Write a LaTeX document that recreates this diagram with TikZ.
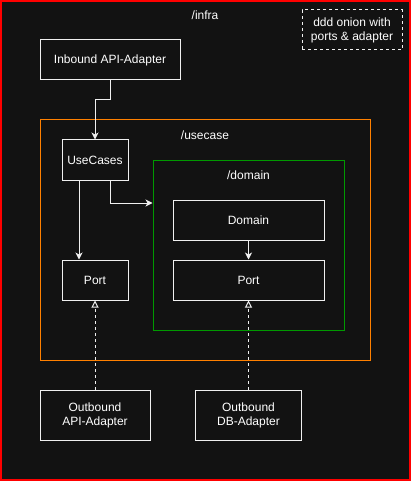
\documentclass[tikz,border=0pt]{standalone}
\usepackage{fontspec}
\setmainfont{Liberation Sans}
\usetikzlibrary{arrows.meta}
\definecolor{bg}{HTML}{121212}
\definecolor{ln}{HTML}{F0F0F0}
\definecolor{orangeline}{HTML}{FF8000}
\definecolor{greenline}{HTML}{009900}
\begin{document}
\begin{tikzpicture}[x=1pt,y=-1pt,
  box/.style={draw=ln,line width=1pt,fill=bg,text=white,font=\fontsize{12}{14}\selectfont,align=center,inner sep=0pt},
  lbl/.style={text=white,font=\fontsize{12}{14}\selectfont,align=center,inner sep=0pt},
  conn/.style={draw=ln,line width=1pt,-{Stealth[length=7pt,width=7pt,inset=2pt]}},
  real/.style={draw=ln,line width=1pt,dashed,dash pattern=on 3pt off 3pt,-{Triangle[open,length=7pt,width=7pt,fill=bg]}}]
\fill[bg] (0,0) rectangle (411,481);
\draw[red,line width=2pt] (1,1) rectangle (410,480);
\useasboundingbox (0,0) rectangle (411,481);
\node[lbl] (infra) at (205,15) {/infra};
\node[lbl,draw=ln,dashed,line width=1pt,minimum width=100pt,minimum height=40pt] (note) at (352,30) {ddd onion with\\ports \& adapter};
\node[box,minimum width=140pt,minimum height=40pt] (inb) at (110,60) {Inbound API-Adapter};
\node[draw=orangeline,line width=1pt,minimum width=330pt,minimum height=240pt,inner sep=0pt] (uc) at (205,240) {};
\node[lbl] (uclbl) at (205,135) {/usecase};
\node[draw=greenline,line width=1pt,minimum width=191pt,minimum height=170pt,inner sep=0pt] (dom) at (248.5,245.5) {};
\node[lbl] (domlbl) at (248.5,175) {/domain};
\node[box,minimum width=66pt,minimum height=40pt] (usec) at (95,160) {UseCases};
\node[box,minimum width=66pt,minimum height=40pt] (portl) at (95,280) {Port};
\node[box,minimum width=151pt,minimum height=40pt] (domain) at (248.5,220) {Domain};
\node[box,minimum width=151pt,minimum height=40pt] (portr) at (248.5,280) {Port};
\node[box,minimum width=110pt,minimum height=50pt] (oapi) at (95,415) {Outbound\\API-Adapter};
\node[box,minimum width=106pt,minimum height=50pt] (odb) at (248.5,415) {Outbound\\DB-Adapter};
\draw[conn] (inb.south) |- (110,100) -| (usec.north);
\draw[conn] (usec.south -| 79,0) -- (portl.north -| 79,0);
\draw[conn] (usec.south -| 110,0) |- (dom.west |- 0,203);
\draw[conn] (domain.south) -- (portr.north);
\draw[real] (oapi.north) -- (portl.south);
\draw[real] (odb.north) -- (portr.south);
\end{tikzpicture}
\end{document}
